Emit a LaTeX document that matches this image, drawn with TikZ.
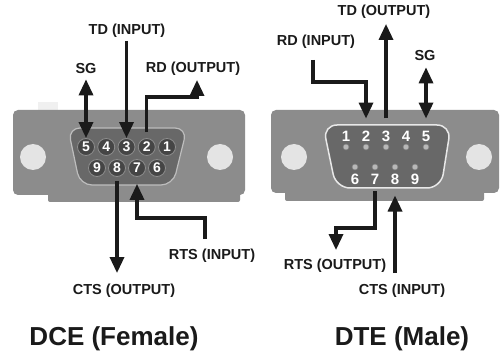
\documentclass[tikz,border=0pt]{standalone}
\usepackage{fontspec}
\setmainfont{Liberation Sans}
\usetikzlibrary{arrows.meta}
\definecolor{plategray}{HTML}{8C8C8C}
\definecolor{shellgray}{HTML}{686868}
\definecolor{shellrim}{HTML}{BDBDBD}
\definecolor{malerim}{HTML}{E8E8E8}
\definecolor{holegray}{HTML}{E4E4E4}
\definecolor{pindark}{HTML}{454545}
\definecolor{pinrim}{HTML}{8C8C8C}
\definecolor{dotgray}{HTML}{B8B8B8}
\definecolor{inkblack}{HTML}{1A1A1A}
\begin{document}
\begin{tikzpicture}[x=1pt,y=-1pt,
        sig/.style={font=\bfseries\fontsize{14.5}{16}\selectfont, text=inkblack, inner sep=1pt},
        heading/.style={font=\bfseries\fontsize{26}{30}\selectfont, text=inkblack, inner sep=0pt, anchor=base},
        arr/.style={draw=inkblack, line width=3.3pt, -{Triangle[width=14pt,length=16pt]}},
        dblarr/.style={draw=inkblack, line width=3.3pt, {Triangle[width=14pt,length=16pt]}-{Triangle[width=14pt,length=16pt]}},
        fpin/.style={circle, fill=pindark, draw=pinrim, line width=0.8pt, minimum size=17pt, inner sep=0pt, text=white, font=\bfseries\fontsize{14}{14}\selectfont},
        mnum/.style={inner sep=0pt, text=white, font=\bfseries\fontsize{15}{15}\selectfont},
        mdot/.style={circle, fill=dotgray, draw=pindark!70, line width=0.6pt, minimum size=6pt, inner sep=0pt},
        ]
        \useasboundingbox (0,0) rectangle (502,352);
        \fill[white] (0,0) rectangle (502,352);

        % DCE (female) shell
        \fill[gray!12] (38,102) rectangle (58,110);
        \fill[plategray, rounded corners=5pt] (13,110) rectangle (245,195);
        \fill[plategray, rounded corners=2pt] (48,190) rectangle (240,202);
        \fill[holegray] (33,157) circle[radius=13];
        \fill[holegray] (220,157) circle[radius=13];
        \filldraw[fill=shellgray, draw=shellrim, line width=1.2pt, rounded corners=12pt]
            (68,128) -- (187,128) -- (173,185) -- (80,185) -- cycle;
        \foreach \n [count=\i from 0] in {5,4,3,2,1}
            \node[fpin] (f\n) at (86+20.25*\i,147) {\n};
        \foreach \n [count=\i from 0] in {9,8,7,6}
            \node[fpin] (f\n) at (97+20*\i,168) {\n};

        % DTE (male) shell
        \fill[plategray, rounded corners=5pt] (271,110) rectangle (499,193);
        \fill[plategray, rounded corners=2pt] (285,190) rectangle (484,201);
        \fill[holegray] (294,157) circle[radius=13];
        \fill[holegray] (479,157) circle[radius=13];
        \filldraw[fill=shellgray, draw=malerim, line width=1.5pt, rounded corners=14pt]
            (323,125) -- (451,125) -- (441,188) -- (336,188) -- cycle;
        \foreach \n in {1,...,5} {
            \node[mdot] (d\n) at (346+20*\n-20,147) {};
            \node[mnum] (m\n) at (346+20*\n-20,136) {\n};
        }
        \foreach \n in {6,...,9} {
            \node[mdot] (d\n) at (355+20*\n-120,167) {};
            \node[mnum] (m\n) at (355+20*\n-120,179) {\n};
        }

        % signal names
        \node[sig] (sgdce) at (86,69) {SG};
        \node[sig] (tdin) at (127,31) {TD (INPUT)};
        \node[sig] (rdout) at (193,69) {RD (OUTPUT)};
        \node[sig] (ctsout) at (124,291) {CTS (OUTPUT)};
        \node[sig] (rtsin) at (212,256) {RTS (INPUT)};
        \node[heading] (dce) at (114,345) {DCE (Female)};

        \node[sig] (tdout) at (384,12) {TD (OUTPUT)};
        \node[sig] (rdin) at (316,42) {RD (INPUT)};
        \node[sig] (sgdte) at (425,56) {SG};
        \node[sig] (rtsout) at (335,266) {RTS (OUTPUT)};
        \node[sig] (ctsin) at (402,291) {CTS (INPUT)};
        \node[heading] (dte) at (402,345) {DTE (Male)};

        % DCE connections
        \coordinate (rdbend) at (197,97);
        \coordinate (rtsbend) at (205,218);
        \draw[dblarr, shorten <=4pt] (sgdce.south -| f5) -- (f5.north);
        \draw[arr, shorten <=2pt] (tdin.south -| f3) -- (f3.north);
        \draw[arr, shorten <=6pt, shorten >=3pt] (f2.north) |- (rdbend) -- (rdbend |- rdout.south);
        \draw[arr, shorten <=4pt, shorten >=10pt] (f8.south) -- (f8.south |- ctsout.north);
        \draw[arr, shorten <=9pt, shorten >=7pt] (rtsbend |- rtsin.north) -- (rtsbend) -| (f7.south);

        % DTE connections
        \coordinate (rdbendm) at (313,82);
        \coordinate (rtsbendm) at (336,228);
        \draw[arr, shorten <=10pt, shorten >=12pt] (rdin.south -| rdbendm) -- (rdbendm) -| (m2.north);
        \draw[arr, shorten <=12pt, shorten >=4pt] (m3.north) -- (m3.north |- tdout.south);
        \draw[dblarr, shorten <=12pt, shorten >=5pt] (m5.north) -- (m5.north |- sgdte.south);
        \draw[arr, shorten <=7pt, shorten >=8pt] (m7.south) |- (rtsbendm) -- (rtsbendm |- rtsout.north);
        \draw[arr, shorten <=10pt, shorten >=11pt] (ctsin.north -| m8) -- (m8.south);
    \end{tikzpicture}
\end{document}
